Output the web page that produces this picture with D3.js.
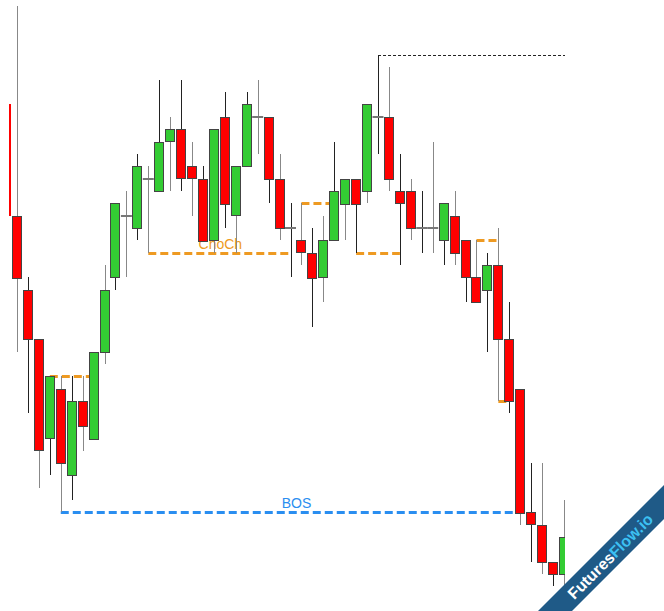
<!DOCTYPE html>
<html>
<head>
<meta charset="utf-8">
<script src="https://cdn.jsdelivr.net/npm/d3@7"></script>
<style>
  body { margin: 0; background: #fff; }
  svg { display: block; }
</style>
</head>
<body>
<div id="chart"></div>
<script>
// candle prices (ticks)
const opens  = [46,37,31,27,19,23,16,22,19,26,32,37,36,40,39,43,44,41,40,35,45,37,41,45,45,40,36,35,34,32,35,38,40,39,45,45,39,39,36,36,35,37,35,32,31,33,27,23,13,12,9,8];
const highs  = [46,54,32,27,24,24,24,24,26,33,38,39,42,41,48,45,48,43,41,44,47,41,47,48,45,42,38,38,36,37,43,40,40,46,50,49,42,40,39,43,38,39,35,35,34,36,30,23,17,17,9,14];
const lows   = [37,26,21,15,16,13,14,18,19,25,31,32,35,34,39,39,39,37,35,34,36,34,41,42,38,35,32,33,28,30,35,35,34,38,42,39,33,35,34,34,33,33,30,30,26,22,21,12,9,8,7,7];
const closes = [37,32,27,18,24,17,22,20,26,31,38,37,41,40,43,44,40,40,35,44,38,41,46,45,40,36,36,34,32,35,39,40,38,46,45,40,38,36,36,36,38,34,32,30,33,27,22,13,12,9,8,11];

// structure levels: price, from candle, to candle
const levelPrice = [50, 34, 38, 34, 24, 35, 22, 13];
const levelFrom  = [34, 13, 27, 32, 4, 43, 45, 5];
const levelTo    = [53, 26, 30, 36, 8, 45, 46, 47];
const levelKind  = ['top', 'choch', 'swing', 'swing', 'swing', 'swing', 'swing', 'bos'];
const labelText  = { choch: 'ChoCh', bos: 'BOS' };

const width = 664, height = 611;
const candles = opens.map((o, i) => ({ i, o, h: highs[i], l: lows[i], c: closes[i] }));

const x = d3.scaleLinear().domain([0, candles.length - 1]).range([6.06, 564]);
const y = d3.scaleLinear().domain([50, 8]).range([55, 574.1]);

const svg = d3.select('#chart')
  .append('svg')
  .attr('width', width)
  .attr('height', height);

svg.append('defs').append('clipPath')
  .attr('id', 'plot')
  .append('rect')
  .attr('x', 9).attr('y', 0)
  .attr('width', 556).attr('height', height);

const plot = svg.append('g').attr('clip-path', 'url(#plot)');

const styles = {
  top:   { color: '#222', w: 1, dash: '3,2' },
  choch: { color: '#ee9a22', w: 3, dash: '8,4' },
  swing: { color: '#ee9a22', w: 3, dash: '8,4' },
  bos:   { color: '#2a8ef0', w: 3, dash: '8,4' }
};

// levels under the candles
levelPrice.forEach((p, k) => {
  const s = styles[levelKind[k]];
  const yy = Math.round(y(p)) + 0.5;
  plot.append('line')
    .attr('x1', x(levelFrom[k]))
    .attr('x2', x(levelTo[k]))
    .attr('y1', yy).attr('y2', yy)
    .attr('stroke', s.color)
    .attr('stroke-width', s.w)
    .attr('stroke-dasharray', s.dash);

  const txt = labelText[levelKind[k]];
  if (txt) {
    const mid = (levelFrom[k] + levelTo[k]) / 2;
    plot.append('text')
      .attr('x', x(mid) + (levelKind[k] === 'bos' ? 6 : 1))
      .attr('y', yy - 5)
      .attr('text-anchor', 'middle')
      .attr('font-family', '"Liberation Sans", Arial, sans-serif')
      .attr('font-size', 14)
      .attr('fill', s.color)
      .text(txt);
  }
});

// wicks
plot.selectAll('line.wick')
  .data(candles)
  .enter()
  .append('line')
  .attr('class', 'wick')
  .attr('x1', d => Math.round(x(d.i)) + 0.5)
  .attr('x2', d => Math.round(x(d.i)) + 0.5)
  .attr('y1', d => y(d.h))
  .attr('y2', d => y(d.l))
  .attr('stroke', (d, i) => i % 2 ? '#888' : '#222')
  .attr('stroke-width', 1)
  .attr('shape-rendering', 'crispEdges');

// bodies
const bodies = candles.filter(d => d.o !== d.c);
plot.selectAll('rect.body')
  .data(bodies)
  .enter()
  .append('rect')
  .attr('class', 'body')
  .attr('x', d => Math.round(x(d.i) - 5) + 0.5)
  .attr('y', d => Math.round(y(Math.max(d.o, d.c))) + 0.5)
  .attr('width', 9)
  .attr('height', d => Math.round(Math.abs(y(d.o) - y(d.c))))
  .attr('fill', d => d.c > d.o ? '#33cc33' : '#ff0000')
  .attr('stroke', d => d.i === 0 ? '#ff0000' : '#444')
  .attr('stroke-width', 1)
  .attr('shape-rendering', 'crispEdges');

// doji crosses
const dojis = candles.filter(d => d.o === d.c);
plot.selectAll('line.doji')
  .data(dojis)
  .enter()
  .append('line')
  .attr('class', 'doji')
  .attr('x1', d => x(d.i) - 5.5)
  .attr('x2', d => x(d.i) + 5.5)
  .attr('y1', d => Math.round(y(d.o)))
  .attr('y2', d => Math.round(y(d.o)))
  .attr('stroke', '#777')
  .attr('stroke-width', 2);

// watermark ribbon
const wm = svg.append('g').attr('transform', 'translate(610,556) rotate(-45)');
wm.append('rect')
  .attr('x', -130).attr('y', -12)
  .attr('width', 260).attr('height', 24)
  .attr('fill', '#1f5a87');
const wt = wm.append('text')
  .attr('x', 0).attr('y', 6)
  .attr('text-anchor', 'middle')
  .attr('font-family', '"Liberation Sans", Arial, sans-serif')
  .attr('font-weight', 'bold')
  .attr('font-size', 16);
wt.append('tspan').attr('fill', '#ffffff').text('Futures');
wt.append('tspan').attr('fill', '#3cc0f2').text('Flow.io');
</script>
</body>
</html>
